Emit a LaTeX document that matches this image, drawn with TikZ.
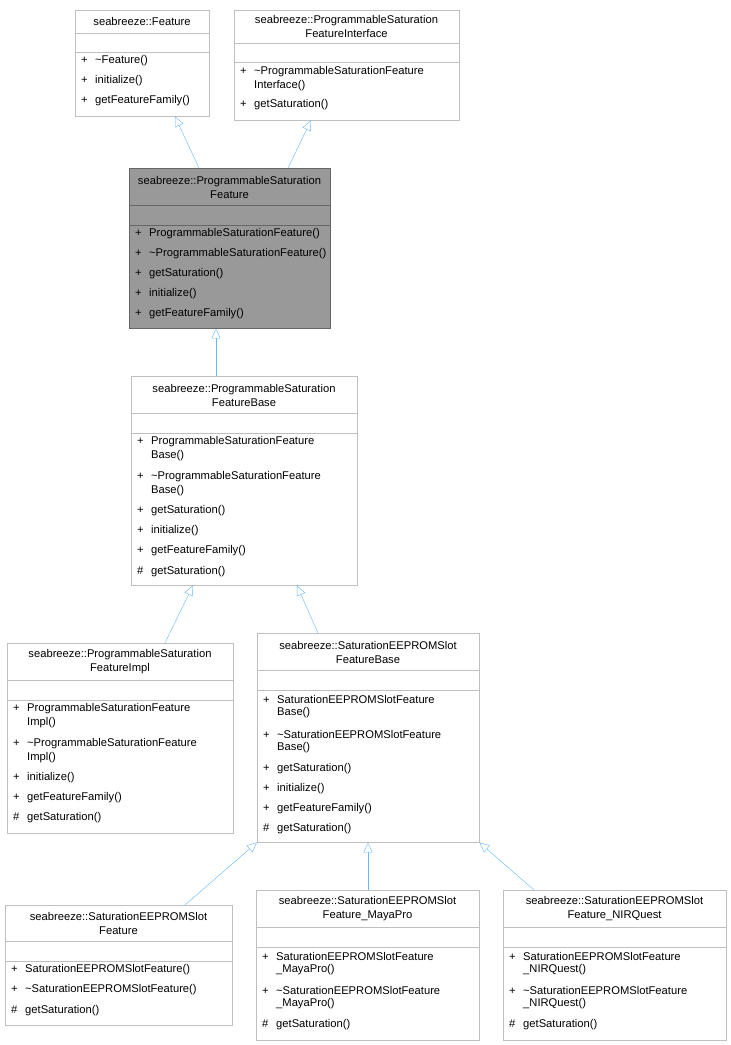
\documentclass[tikz,border=0pt]{standalone}
\usepackage{fontspec}
\setmainfont{Liberation Sans}
\usetikzlibrary{arrows.meta,calc}
\definecolor{edgeblue}{RGB}{99,184,255}

\tikzset{
    cls/.style={draw=black!25, fill=white, anchor=north west, inner sep=0pt},
    hot/.style={draw=black!60, fill=black!40, anchor=north west, inner sep=0pt},
    sepl/.style={draw=black!25},
    hsepl/.style={draw=black!60},
    txt/.style={anchor=west, inner sep=0pt, font=\fontsize{11.2}{13}\selectfont},
    ttl/.style={anchor=center, inner sep=0pt, align=center, font=\fontsize{11.2}{14}\selectfont},
    inh/.style={draw=edgeblue, {Triangle[open, length=10pt, width=9pt, fill=white]}-},
}
\newcommand{\pl}{\makebox[14pt][l]{+}}
\newcommand{\hs}{\makebox[14pt][l]{\#}}
\newcommand{\ind}{\hspace*{14pt}}

\begin{document}
\begin{tikzpicture}[x=1pt, y=-1pt]
    \useasboundingbox (0,0) rectangle (731,1045);
    % top row
    \node[cls, minimum width=134pt, minimum height=106pt] (feat) at (75,10) {};
    \draw[sepl] (75,33) -- (209,33);
    \draw[sepl] (75,52) -- (209,52);
    \node[ttl] (featT) at (142,21) {seabreeze::Feature};
    \node[txt] (feat1) at (81,61) {\pl\textasciitilde Feature()};
    \node[txt] (feat2) at (81,81) {\pl initialize()};
    \node[txt] (feat3) at (81,101) {\pl getFeatureFamily()};

    \node[cls, minimum width=225pt, minimum height=110pt] (ifc) at (234,10) {};
    \draw[sepl] (234,43) -- (459,43);
    \draw[sepl] (234,62) -- (459,62);
    \node[ttl] (ifcT) at (346.5,26) {seabreeze::ProgrammableSaturation\\FeatureInterface};
    \node[txt] (ifc1) at (240,72) {\pl\textasciitilde ProgrammableSaturationFeature};
    \node[txt] (ifc2) at (240,86) {\ind Interface()};
    \node[txt] (ifc3) at (240,105) {\pl getSaturation()};

    % highlighted class
    \node[hot, minimum width=201pt, minimum height=160pt] (psf) at (129,168) {};
    \draw[hsepl] (129,205) -- (330,205);
    \draw[hsepl] (129,225) -- (330,225);
    \node[ttl] (psfT) at (229.5,187) {seabreeze::ProgrammableSaturation\\Feature};
    \node[txt] (psf1) at (135,234) {\pl ProgrammableSaturationFeature()};
    \node[txt] (psf2) at (135,254) {\pl\textasciitilde ProgrammableSaturationFeature()};
    \node[txt] (psf3) at (135,274) {\pl getSaturation()};
    \node[txt] (psf4) at (135,294) {\pl initialize()};
    \node[txt] (psf5) at (135,314) {\pl getFeatureFamily()};

    % base
    \node[cls, minimum width=226pt, minimum height=209pt] (base) at (131,376) {};
    \draw[sepl] (131,413) -- (357,413);
    \draw[sepl] (131,433) -- (357,433);
    \node[ttl] (baseT) at (244,395) {seabreeze::ProgrammableSaturation\\FeatureBase};
    \node[txt] (base1) at (137,442) {\pl ProgrammableSaturationFeature};
    \node[txt] (base2) at (137,456) {\ind Base()};
    \node[txt] (base3) at (137,477) {\pl\textasciitilde ProgrammableSaturationFeature};
    \node[txt] (base4) at (137,491) {\ind Base()};
    \node[txt] (base5) at (137,511) {\pl getSaturation()};
    \node[txt] (base6) at (137,531) {\pl initialize()};
    \node[txt] (base7) at (137,551) {\pl getFeatureFamily()};
    \node[txt] (base8) at (137,572) {\hs getSaturation()};

    % impl
    \node[cls, minimum width=226pt, minimum height=190pt] (impl) at (7,643) {};
    \draw[sepl] (7,680) -- (233,680);
    \draw[sepl] (7,700) -- (233,700);
    \node[ttl] (implT) at (120,662) {seabreeze::ProgrammableSaturation\\FeatureImpl};
    \node[txt] (impl1) at (13,709) {\pl ProgrammableSaturationFeature};
    \node[txt] (impl2) at (13,723) {\ind Impl()};
    \node[txt] (impl3) at (13,744) {\pl\textasciitilde ProgrammableSaturationFeature};
    \node[txt] (impl4) at (13,758) {\ind Impl()};
    \node[txt] (impl5) at (13,778) {\pl initialize()};
    \node[txt] (impl6) at (13,798) {\pl getFeatureFamily()};
    \node[txt] (impl7) at (13,818) {\hs getSaturation()};

    % slot base
    \node[cls, minimum width=222pt, minimum height=209pt] (slot) at (257,633) {};
    \draw[sepl] (257,670) -- (479,670);
    \draw[sepl] (257,690) -- (479,690);
    \node[ttl] (slotT) at (368,652) {seabreeze::SaturationEEPROMSlot\\FeatureBase};
    \node[txt] (slot1) at (263,699) {\pl SaturationEEPROMSlotFeature};
    \node[txt] (slot2) at (263,713) {\ind Base()};
    \node[txt] (slot3) at (263,734) {\pl\textasciitilde SaturationEEPROMSlotFeature};
    \node[txt] (slot4) at (263,748) {\ind Base()};
    \node[txt] (slot5) at (263,769) {\pl getSaturation()};
    \node[txt] (slot6) at (263,789) {\pl initialize()};
    \node[txt] (slot7) at (263,809) {\pl getFeatureFamily()};
    \node[txt] (slot8) at (263,829) {\hs getSaturation()};

    % leaves
    \node[cls, minimum width=227pt, minimum height=120pt] (sf) at (5,905) {};
    \draw[sepl] (5,941) -- (232,941);
    \draw[sepl] (5,961) -- (232,961);
    \node[ttl] (sfT) at (118.5,923) {seabreeze::SaturationEEPROMSlot\\Feature};
    \node[txt] (sf1) at (11,970) {\pl SaturationEEPROMSlotFeature()};
    \node[txt] (sf2) at (11,990) {\pl\textasciitilde SaturationEEPROMSlotFeature()};
    \node[txt] (sf3) at (11,1011) {\hs getSaturation()};

    \node[cls, minimum width=223pt, minimum height=150pt] (maya) at (256,890) {};
    \draw[sepl] (256,927) -- (479,927);
    \draw[sepl] (256,947) -- (479,947);
    \node[ttl] (mayaT) at (367.5,909) {seabreeze::SaturationEEPROMSlot\\Feature\_MayaPro};
    \node[txt] (maya1) at (262,956) {\pl SaturationEEPROMSlotFeature};
    \node[txt] (maya2) at (262,970) {\ind\_MayaPro()};
    \node[txt] (maya3) at (262,990) {\pl\textasciitilde SaturationEEPROMSlotFeature};
    \node[txt] (maya4) at (262,1004) {\ind\_MayaPro()};
    \node[txt] (maya5) at (262,1025) {\hs getSaturation()};

    \node[cls, minimum width=223pt, minimum height=150pt] (nir) at (503,890) {};
    \draw[sepl] (503,927) -- (726,927);
    \draw[sepl] (503,947) -- (726,947);
    \node[ttl] (nirT) at (614.5,909) {seabreeze::SaturationEEPROMSlot\\Feature\_NIRQuest};
    \node[txt] (nir1) at (509,956) {\pl SaturationEEPROMSlotFeature};
    \node[txt] (nir2) at (509,970) {\ind\_NIRQuest()};
    \node[txt] (nir3) at (509,990) {\pl\textasciitilde SaturationEEPROMSlotFeature};
    \node[txt] (nir4) at (509,1004) {\ind\_NIRQuest()};
    \node[txt] (nir5) at (509,1025) {\hs getSaturation()};

    % inheritance
    \draw[inh] ($(feat.south west)+(100,0)$) -- ($(psf.north west)+(70,0)$);
    \draw[inh] ($(ifc.south west)+(77,0)$) -- ($(psf.north west)+(159,0)$);
    \draw[inh] ($(psf.south west)+(87,0)$) -- ($(base.north west)+(85,0)$);
    \draw[inh] ($(base.south west)+(62,0)$) -- ($(impl.north west)+(158,0)$);
    \draw[inh] ($(base.south west)+(166,0)$) -- ($(slot.north west)+(61,0)$);
    \draw[inh] (slot.south west) -- ($(sf.north west)+(180,0)$);
    \draw[inh] ($(slot.south west)+(111,0)$) -- ($(maya.north west)+(112,0)$);
    \draw[inh] (slot.south east) -- ($(nir.north west)+(31,0)$);
\end{tikzpicture}
\end{document}
